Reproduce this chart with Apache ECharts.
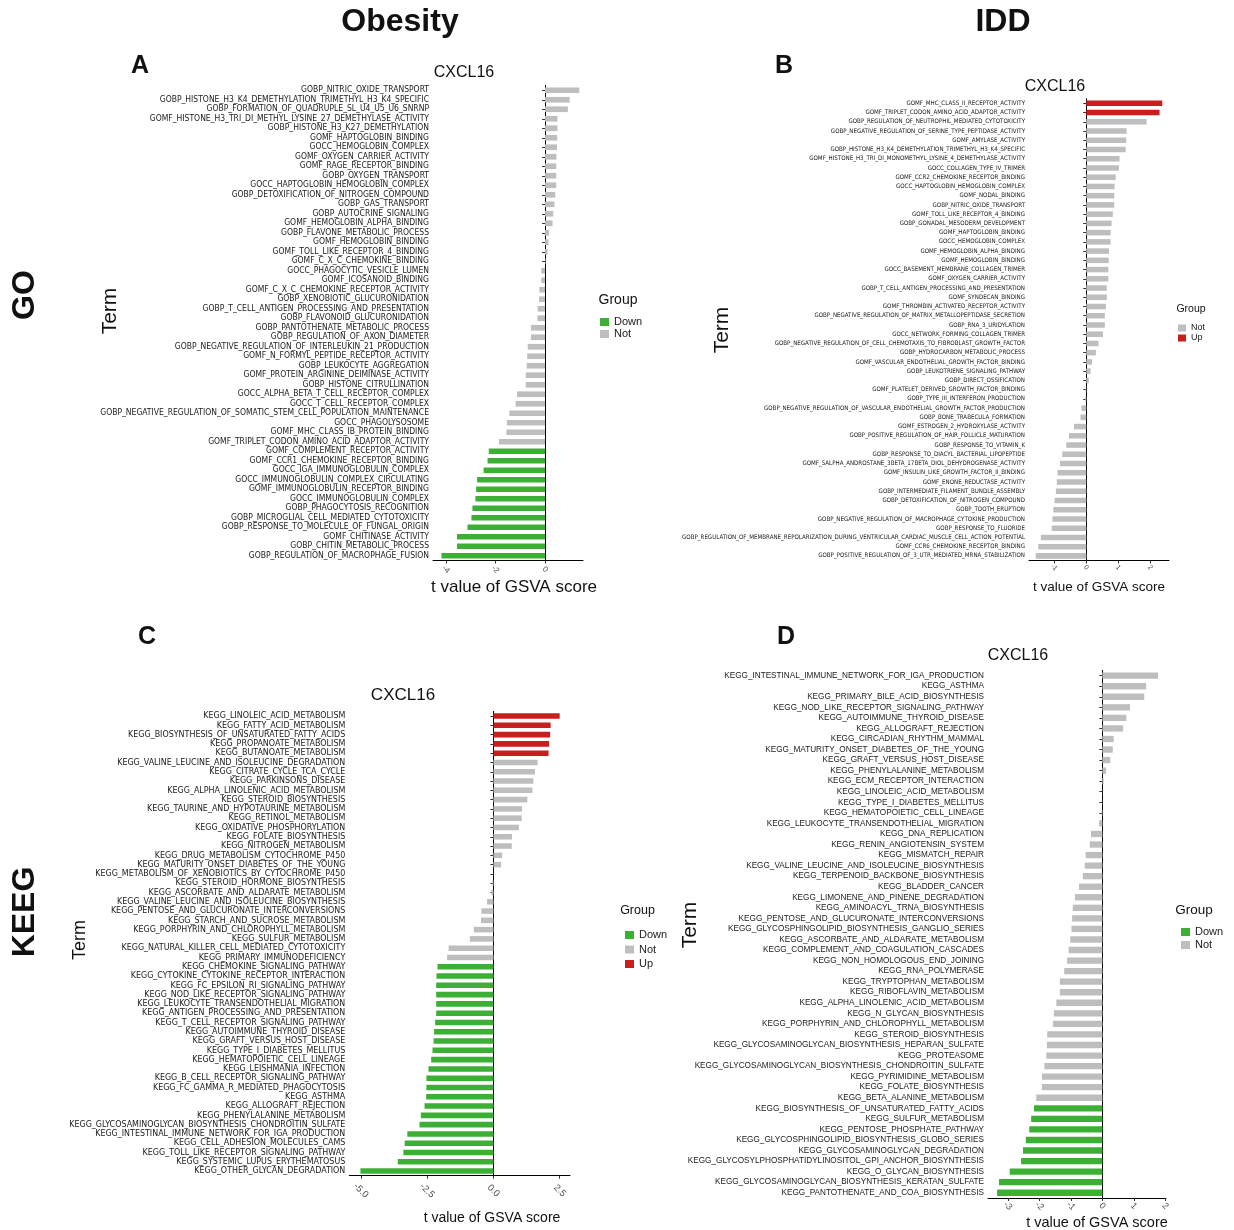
<!DOCTYPE html>
<html>
<head>
<meta charset="utf-8">
<script src="https://cdn.jsdelivr.net/npm/echarts@6/dist/echarts.min.js"></script>
<style>
  html, body { margin: 0; padding: 0; background: #fff; }
  #main { width: 1234px; height: 1230px; }
</style>
</head>
<body>
<div id="main"></div>
<script>
// ---- A: GO, Obesity ----
const goObesityTerms = [
  'GOBP_NITRIC_OXIDE_TRANSPORT', 'GOBP_HISTONE_H3_K4_DEMETHYLATION_TRIMETHYL_H3_K4_SPECIFIC',
  'GOBP_FORMATION_OF_QUADRUPLE_SL_U4_U5_U6_SNRNP', 'GOMF_HISTONE_H3_TRI_DI_METHYL_LYSINE_27_DEMETHYLASE_ACTIVITY',
  'GOBP_HISTONE_H3_K27_DEMETHYLATION', 'GOMF_HAPTOGLOBIN_BINDING', 'GOCC_HEMOGLOBIN_COMPLEX',
  'GOMF_OXYGEN_CARRIER_ACTIVITY', 'GOMF_RAGE_RECEPTOR_BINDING', 'GOBP_OXYGEN_TRANSPORT',
  'GOCC_HAPTOGLOBIN_HEMOGLOBIN_COMPLEX', 'GOBP_DETOXIFICATION_OF_NITROGEN_COMPOUND', 'GOBP_GAS_TRANSPORT',
  'GOBP_AUTOCRINE_SIGNALING', 'GOMF_HEMOGLOBIN_ALPHA_BINDING', 'GOBP_FLAVONE_METABOLIC_PROCESS',
  'GOMF_HEMOGLOBIN_BINDING', 'GOMF_TOLL_LIKE_RECEPTOR_4_BINDING', 'GOMF_C_X_C_CHEMOKINE_BINDING',
  'GOCC_PHAGOCYTIC_VESICLE_LUMEN', 'GOMF_ICOSANOID_BINDING', 'GOMF_C_X_C_CHEMOKINE_RECEPTOR_ACTIVITY',
  'GOBP_XENOBIOTIC_GLUCURONIDATION', 'GOBP_T_CELL_ANTIGEN_PROCESSING_AND_PRESENTATION',
  'GOBP_FLAVONOID_GLUCURONIDATION', 'GOBP_PANTOTHENATE_METABOLIC_PROCESS', 'GOBP_REGULATION_OF_AXON_DIAMETER',
  'GOBP_NEGATIVE_REGULATION_OF_INTERLEUKIN_21_PRODUCTION', 'GOMF_N_FORMYL_PEPTIDE_RECEPTOR_ACTIVITY',
  'GOBP_LEUKOCYTE_AGGREGATION', 'GOMF_PROTEIN_ARGININE_DEIMINASE_ACTIVITY', 'GOBP_HISTONE_CITRULLINATION',
  'GOCC_ALPHA_BETA_T_CELL_RECEPTOR_COMPLEX', 'GOCC_T_CELL_RECEPTOR_COMPLEX',
  'GOBP_NEGATIVE_REGULATION_OF_SOMATIC_STEM_CELL_POPULATION_MAINTENANCE', 'GOCC_PHAGOLYSOSOME',
  'GOMF_MHC_CLASS_IB_PROTEIN_BINDING', 'GOMF_TRIPLET_CODON_AMINO_ACID_ADAPTOR_ACTIVITY',
  'GOMF_COMPLEMENT_RECEPTOR_ACTIVITY', 'GOMF_CCR1_CHEMOKINE_RECEPTOR_BINDING', 'GOCC_IGA_IMMUNOGLOBULIN_COMPLEX',
  'GOCC_IMMUNOGLOBULIN_COMPLEX_CIRCULATING', 'GOMF_IMMUNOGLOBULIN_RECEPTOR_BINDING', 'GOCC_IMMUNOGLOBULIN_COMPLEX',
  'GOBP_PHAGOCYTOSIS_RECOGNITION', 'GOBP_MICROGLIAL_CELL_MEDIATED_CYTOTOXICITY',
  'GOBP_RESPONSE_TO_MOLECULE_OF_FUNGAL_ORIGIN', 'GOMF_CHITINASE_ACTIVITY', 'GOBP_CHITIN_METABOLIC_PROCESS',
  'GOBP_REGULATION_OF_MACROPHAGE_FUSION'
];
const goObesityT = [
  1.38, 0.99, 0.92, 0.50, 0.50, 0.49, 0.48, 0.46, 0.45, 0.45, 0.45, 0.41, 0.38, 0.33, 0.30, 0.16, 0.14,
  0.10, 0.02, -0.15, -0.15, -0.23, -0.24, -0.30, -0.31, -0.57, -0.57, -0.70, -0.72, -0.74, -0.78, -0.78,
  -1.13, -1.19, -1.44, -1.54, -1.56, -1.86, -2.27, -2.32, -2.48, -2.74, -2.78, -2.81, -2.93, -2.97,
  -3.13, -3.55, -3.55, -4.18
];
const goObesityGroup = [...Array(38).fill('Not'), ...Array(12).fill('Down')];
const goObesityTicks = [-4, -2, 0];

// ---- B: GO, IDD ----
const goIddTerms = [
  'GOMF_MHC_CLASS_II_RECEPTOR_ACTIVITY', 'GOMF_TRIPLET_CODON_AMINO_ACID_ADAPTOR_ACTIVITY',
  'GOBP_REGULATION_OF_NEUTROPHIL_MEDIATED_CYTOTOXICITY', 'GOBP_NEGATIVE_REGULATION_OF_SERINE_TYPE_PEPTIDASE_ACTIVITY',
  'GOMF_AMYLASE_ACTIVITY', 'GOBP_HISTONE_H3_K4_DEMETHYLATION_TRIMETHYL_H3_K4_SPECIFIC',
  'GOMF_HISTONE_H3_TRI_DI_MONOMETHYL_LYSINE_4_DEMETHYLASE_ACTIVITY', 'GOCC_COLLAGEN_TYPE_IV_TRIMER',
  'GOMF_CCR2_CHEMOKINE_RECEPTOR_BINDING', 'GOCC_HAPTOGLOBIN_HEMOGLOBIN_COMPLEX', 'GOMF_NODAL_BINDING',
  'GOBP_NITRIC_OXIDE_TRANSPORT', 'GOMF_TOLL_LIKE_RECEPTOR_4_BINDING', 'GOBP_GONADAL_MESODERM_DEVELOPMENT',
  'GOMF_HAPTOGLOBIN_BINDING', 'GOCC_HEMOGLOBIN_COMPLEX', 'GOMF_HEMOGLOBIN_ALPHA_BINDING', 'GOMF_HEMOGLOBIN_BINDING',
  'GOCC_BASEMENT_MEMBRANE_COLLAGEN_TRIMER', 'GOMF_OXYGEN_CARRIER_ACTIVITY',
  'GOBP_T_CELL_ANTIGEN_PROCESSING_AND_PRESENTATION', 'GOMF_SYNDECAN_BINDING',
  'GOMF_THROMBIN_ACTIVATED_RECEPTOR_ACTIVITY', 'GOBP_NEGATIVE_REGULATION_OF_MATRIX_METALLOPEPTIDASE_SECRETION',
  'GOBP_RNA_3_URIDYLATION', 'GOCC_NETWORK_FORMING_COLLAGEN_TRIMER',
  'GOBP_NEGATIVE_REGULATION_OF_CELL_CHEMOTAXIS_TO_FIBROBLAST_GROWTH_FACTOR', 'GOBP_HYDROCARBON_METABOLIC_PROCESS',
  'GOMF_VASCULAR_ENDOTHELIAL_GROWTH_FACTOR_BINDING', 'GOBP_LEUKOTRIENE_SIGNALING_PATHWAY',
  'GOBP_DIRECT_OSSIFICATION', 'GOMF_PLATELET_DERIVED_GROWTH_FACTOR_BINDING', 'GOBP_TYPE_III_INTERFERON_PRODUCTION',
  'GOBP_NEGATIVE_REGULATION_OF_VASCULAR_ENDOTHELIAL_GROWTH_FACTOR_PRODUCTION', 'GOBP_BONE_TRABECULA_FORMATION',
  'GOMF_ESTROGEN_2_HYDROXYLASE_ACTIVITY', 'GOBP_POSITIVE_REGULATION_OF_HAIR_FOLLICLE_MATURATION',
  'GOBP_RESPONSE_TO_VITAMIN_K', 'GOBP_RESPONSE_TO_DIACYL_BACTERIAL_LIPOPEPTIDE',
  'GOMF_5ALPHA_ANDROSTANE_3BETA_17BETA_DIOL_DEHYDROGENASE_ACTIVITY', 'GOMF_INSULIN_LIKE_GROWTH_FACTOR_II_BINDING',
  'GOMF_ENONE_REDUCTASE_ACTIVITY', 'GOBP_INTERMEDIATE_FILAMENT_BUNDLE_ASSEMBLY',
  'GOBP_DETOXIFICATION_OF_NITROGEN_COMPOUND', 'GOBP_TOOTH_ERUPTION',
  'GOBP_NEGATIVE_REGULATION_OF_MACROPHAGE_CYTOKINE_PRODUCTION', 'GOBP_RESPONSE_TO_FLUORIDE',
  'GOBP_REGULATION_OF_MEMBRANE_REPOLARIZATION_DURING_VENTRICULAR_CARDIAC_MUSCLE_CELL_ACTION_POTENTIAL',
  'GOMF_CCR6_CHEMOKINE_RECEPTOR_BINDING', 'GOBP_POSITIVE_REGULATION_OF_3_UTR_MEDIATED_MRNA_STABILIZATION'
];
const goIddT = [
  2.375, 2.29, 1.885, 1.26, 1.25, 1.23, 1.04, 1.02, 0.92, 0.885, 0.875, 0.875, 0.83, 0.79, 0.76, 0.76,
  0.71, 0.70, 0.69, 0.69, 0.64, 0.64, 0.615, 0.58, 0.58, 0.52, 0.385, 0.30, 0.18, 0.135, 0.08, -0.02,
  -0.03, -0.15, -0.18, -0.385, -0.54, -0.625, -0.75, -0.82, -0.90, -0.92, -0.95, -0.99, -1.03, -1.06,
  -1.08, -1.42, -1.50, -1.58
];
const goIddGroup = [...Array(2).fill('Up'), ...Array(48).fill('Not')];
const goIddTicks = [-1, 0, 1, 2];

// ---- C: KEGG, Obesity ----
const keggObesityTerms = [
  'KEGG_LINOLEIC_ACID_METABOLISM', 'KEGG_FATTY_ACID_METABOLISM', 'KEGG_BIOSYNTHESIS_OF_UNSATURATED_FATTY_ACIDS',
  'KEGG_PROPANOATE_METABOLISM', 'KEGG_BUTANOATE_METABOLISM', 'KEGG_VALINE_LEUCINE_AND_ISOLEUCINE_DEGRADATION',
  'KEGG_CITRATE_CYCLE_TCA_CYCLE', 'KEGG_PARKINSONS_DISEASE', 'KEGG_ALPHA_LINOLENIC_ACID_METABOLISM',
  'KEGG_STEROID_BIOSYNTHESIS', 'KEGG_TAURINE_AND_HYPOTAURINE_METABOLISM', 'KEGG_RETINOL_METABOLISM',
  'KEGG_OXIDATIVE_PHOSPHORYLATION', 'KEGG_FOLATE_BIOSYNTHESIS', 'KEGG_NITROGEN_METABOLISM',
  'KEGG_DRUG_METABOLISM_CYTOCHROME_P450', 'KEGG_MATURITY_ONSET_DIABETES_OF_THE_YOUNG',
  'KEGG_METABOLISM_OF_XENOBIOTICS_BY_CYTOCHROME_P450', 'KEGG_STEROID_HORMONE_BIOSYNTHESIS',
  'KEGG_ASCORBATE_AND_ALDARATE_METABOLISM', 'KEGG_VALINE_LEUCINE_AND_ISOLEUCINE_BIOSYNTHESIS',
  'KEGG_PENTOSE_AND_GLUCURONATE_INTERCONVERSIONS', 'KEGG_STARCH_AND_SUCROSE_METABOLISM',
  'KEGG_PORPHYRIN_AND_CHLOROPHYLL_METABOLISM', 'KEGG_SULFUR_METABOLISM',
  'KEGG_NATURAL_KILLER_CELL_MEDIATED_CYTOTOXICITY', 'KEGG_PRIMARY_IMMUNODEFICIENCY',
  'KEGG_CHEMOKINE_SIGNALING_PATHWAY', 'KEGG_CYTOKINE_CYTOKINE_RECEPTOR_INTERACTION',
  'KEGG_FC_EPSILON_RI_SIGNALING_PATHWAY', 'KEGG_NOD_LIKE_RECEPTOR_SIGNALING_PATHWAY',
  'KEGG_LEUKOCYTE_TRANSENDOTHELIAL_MIGRATION', 'KEGG_ANTIGEN_PROCESSING_AND_PRESENTATION',
  'KEGG_T_CELL_RECEPTOR_SIGNALING_PATHWAY', 'KEGG_AUTOIMMUNE_THYROID_DISEASE', 'KEGG_GRAFT_VERSUS_HOST_DISEASE',
  'KEGG_TYPE_I_DIABETES_MELLITUS', 'KEGG_HEMATOPOIETIC_CELL_LINEAGE', 'KEGG_LEISHMANIA_INFECTION',
  'KEGG_B_CELL_RECEPTOR_SIGNALING_PATHWAY', 'KEGG_FC_GAMMA_R_MEDIATED_PHAGOCYTOSIS', 'KEGG_ASTHMA',
  'KEGG_ALLOGRAFT_REJECTION', 'KEGG_PHENYLALANINE_METABOLISM',
  'KEGG_GLYCOSAMINOGLYCAN_BIOSYNTHESIS_CHONDROITIN_SULFATE', 'KEGG_INTESTINAL_IMMUNE_NETWORK_FOR_IGA_PRODUCTION',
  'KEGG_CELL_ADHESION_MOLECULES_CAMS', 'KEGG_TOLL_LIKE_RECEPTOR_SIGNALING_PATHWAY',
  'KEGG_SYSTEMIC_LUPUS_ERYTHEMATOSUS', 'KEGG_OTHER_GLYCAN_DEGRADATION'
];
const keggObesityT = [
  2.50, 2.16, 2.14, 2.10, 2.08, 1.67, 1.57, 1.51, 1.47, 1.28, 1.08, 1.07, 0.96, 0.70, 0.69, 0.33, 0.29,
  0.005, -0.04, -0.075, -0.24, -0.45, -0.47, -0.74, -0.89, -1.69, -1.75, -2.11, -2.15, -2.16, -2.16,
  -2.16, -2.16, -2.20, -2.24, -2.26, -2.30, -2.35, -2.45, -2.53, -2.53, -2.54, -2.60, -2.74, -2.79,
  -3.25, -3.35, -3.40, -3.61, -5.02
];
const keggObesityGroup = [...Array(5).fill('Up'), ...Array(22).fill('Not'), ...Array(23).fill('Down')];
const keggObesityTicks = [-5, -2.5, 0, 2.5];

// ---- D: KEGG, IDD ----
const keggIddTerms = [
  'KEGG_INTESTINAL_IMMUNE_NETWORK_FOR_IGA_PRODUCTION', 'KEGG_ASTHMA', 'KEGG_PRIMARY_BILE_ACID_BIOSYNTHESIS',
  'KEGG_NOD_LIKE_RECEPTOR_SIGNALING_PATHWAY', 'KEGG_AUTOIMMUNE_THYROID_DISEASE', 'KEGG_ALLOGRAFT_REJECTION',
  'KEGG_CIRCADIAN_RHYTHM_MAMMAL', 'KEGG_MATURITY_ONSET_DIABETES_OF_THE_YOUNG', 'KEGG_GRAFT_VERSUS_HOST_DISEASE',
  'KEGG_PHENYLALANINE_METABOLISM', 'KEGG_ECM_RECEPTOR_INTERACTION', 'KEGG_LINOLEIC_ACID_METABOLISM',
  'KEGG_TYPE_I_DIABETES_MELLITUS', 'KEGG_HEMATOPOIETIC_CELL_LINEAGE', 'KEGG_LEUKOCYTE_TRANSENDOTHELIAL_MIGRATION',
  'KEGG_DNA_REPLICATION', 'KEGG_RENIN_ANGIOTENSIN_SYSTEM', 'KEGG_MISMATCH_REPAIR',
  'KEGG_VALINE_LEUCINE_AND_ISOLEUCINE_BIOSYNTHESIS', 'KEGG_TERPENOID_BACKBONE_BIOSYNTHESIS', 'KEGG_BLADDER_CANCER',
  'KEGG_LIMONENE_AND_PINENE_DEGRADATION', 'KEGG_AMINOACYL_TRNA_BIOSYNTHESIS',
  'KEGG_PENTOSE_AND_GLUCURONATE_INTERCONVERSIONS', 'KEGG_GLYCOSPHINGOLIPID_BIOSYNTHESIS_GANGLIO_SERIES',
  'KEGG_ASCORBATE_AND_ALDARATE_METABOLISM', 'KEGG_COMPLEMENT_AND_COAGULATION_CASCADES',
  'KEGG_NON_HOMOLOGOUS_END_JOINING', 'KEGG_RNA_POLYMERASE', 'KEGG_TRYPTOPHAN_METABOLISM',
  'KEGG_RIBOFLAVIN_METABOLISM', 'KEGG_ALPHA_LINOLENIC_ACID_METABOLISM', 'KEGG_N_GLYCAN_BIOSYNTHESIS',
  'KEGG_PORPHYRIN_AND_CHLOROPHYLL_METABOLISM', 'KEGG_STEROID_BIOSYNTHESIS',
  'KEGG_GLYCOSAMINOGLYCAN_BIOSYNTHESIS_HEPARAN_SULFATE', 'KEGG_PROTEASOME',
  'KEGG_GLYCOSAMINOGLYCAN_BIOSYNTHESIS_CHONDROITIN_SULFATE', 'KEGG_PYRIMIDINE_METABOLISM',
  'KEGG_FOLATE_BIOSYNTHESIS', 'KEGG_BETA_ALANINE_METABOLISM', 'KEGG_BIOSYNTHESIS_OF_UNSATURATED_FATTY_ACIDS',
  'KEGG_SULFUR_METABOLISM', 'KEGG_PENTOSE_PHOSPHATE_PATHWAY', 'KEGG_GLYCOSPHINGOLIPID_BIOSYNTHESIS_GLOBO_SERIES',
  'KEGG_GLYCOSAMINOGLYCAN_DEGRADATION', 'KEGG_GLYCOSYLPHOSPHATIDYLINOSITOL_GPI_ANCHOR_BIOSYNTHESIS',
  'KEGG_O_GLYCAN_BIOSYNTHESIS', 'KEGG_GLYCOSAMINOGLYCAN_BIOSYNTHESIS_KERATAN_SULFATE',
  'KEGG_PANTOTHENATE_AND_COA_BIOSYNTHESIS'
];
const keggIddT = [
  1.77, 1.39, 1.33, 0.88, 0.76, 0.66, 0.36, 0.33, 0.25, 0.12, 0.04, 0.005, -0.005, -0.02, -0.10, -0.36,
  -0.40, -0.53, -0.56, -0.62, -0.74, -0.87, -0.94, -0.96, -0.98, -1.02, -1.07, -1.12, -1.21, -1.35,
  -1.35, -1.46, -1.54, -1.57, -1.75, -1.76, -1.78, -1.84, -1.92, -1.92, -2.10, -2.17, -2.26, -2.32,
  -2.43, -2.52, -2.58, -2.94, -3.28, -3.34
];
const keggIddGroup = [...Array(41).fill('Not'), ...Array(9).fill('Down')];
const keggIddTicks = [-3, -2, -1, 0, 1, 2];

const groupColors = { Down: '#3cb034', Not: '#bebebe', Up: '#c81e1e' };
const NARROW = "'Liberation Sans Narrow', 'Arial Narrow', 'DejaVu Sans Condensed', sans-serif";
const SANS = "'Liberation Sans', Arial, Helvetica, sans-serif";

// panel layout: grid box, x range, fonts
const panels = [
  { terms: goObesityTerms, t: goObesityT, group: goObesityGroup, ticks: goObesityTicks, groups: ['Down', 'Not'],
    grid: { left: 433, top: 85.5, width: 150, height: 475 }, min: -4.52, max: 1.53,
    yFont: 8.5, yFamily: NARROW, xFont: 8, xMargin: 9, fmt: v => String(v),
    legend: { left: 600, top: 316, size: 9, pitch: 12, font: 11 } },
  { terms: goIddTerms, t: goIddT, group: goIddGroup, ticks: goIddTicks, groups: ['Not', 'Up'],
    grid: { left: 1029, top: 98.7, width: 140, height: 461.8 }, min: -1.79, max: 2.585,
    yFont: 6.15, yFamily: NARROW, xFont: 7, xMargin: 7, fmt: v => String(v),
    legend: { left: 1178, top: 323, size: 8, pitch: 10, font: 9 } },
  { terms: keggObesityTerms, t: keggObesityT, group: keggObesityGroup, ticks: keggObesityTicks, groups: ['Down', 'Not', 'Up'],
    grid: { left: 349.3, top: 711.4, width: 220.7, height: 464.3 }, min: -5.44, max: 2.89,
    yFont: 8.85, yFamily: NARROW, xFont: 9.5, xMargin: 15, fmt: v => v.toFixed(1),
    legend: { left: 625, top: 927.75, size: 9, pitch: 14.5, font: 11 } },
  { terms: keggIddTerms, t: keggIddT, group: keggIddGroup, ticks: keggIddTicks, groups: ['Down', 'Not'],
    grid: { left: 988, top: 670.4, width: 178, height: 527.6 }, min: -3.63, max: 2.02,
    yFont: 8.2, yFamily: SANS, xFont: 9, xMargin: 8, fmt: v => String(v),
    legend: { left: 1181, top: 925.5, size: 9, pitch: 13, font: 11 } }
];

const grid = [], xAxis = [], yAxis = [], series = [], legend = [];
panels.forEach((p, i) => {
  grid.push(Object.assign({ outerBoundsMode: 'none', containLabel: false }, p.grid));
  xAxis.push({
    gridIndex: i, type: 'value', min: p.min, max: p.max,
    axisLine: { show: true, lineStyle: { color: '#000', width: 1 } },
    axisTick: { show: true, length: 3, customValues: p.ticks, lineStyle: { color: '#333' } },
    axisLabel: {
      customValues: p.ticks, rotate: -45, align: 'center', verticalAlign: 'middle',
      margin: p.xMargin, fontSize: p.xFont, color: '#4d4d4d', fontFamily: SANS, formatter: p.fmt
    },
    splitLine: { show: false }
  });
  yAxis.push({
    gridIndex: i, type: 'category', inverse: true, data: p.terms,
    axisLine: { show: true, lineStyle: { color: '#000', width: 1 } },
    axisTick: { show: true, length: 3, alignWithLabel: true, lineStyle: { color: '#333' } },
    axisLabel: { interval: 0, margin: 4, fontSize: p.yFont, fontFamily: p.yFamily, color: '#1a1a1a' }
  });
  p.groups.forEach(g => {
    series.push({
      name: g, type: 'bar', xAxisIndex: i, yAxisIndex: i, stack: 'panel' + i,
      barWidth: '60%', color: groupColors[g], silent: true,
      data: p.t.map((v, k) => (p.group[k] === g ? v : null))
    });
  });
  legend.push({
    left: p.legend.left, top: p.legend.top, orient: 'vertical', padding: 0, itemGap: 0,
    itemWidth: p.legend.size, itemHeight: p.legend.size - 1, icon: 'rect', selectedMode: false,
    data: p.groups,
    textStyle: { fontSize: p.legend.font, fontFamily: SANS, color: '#1a1a1a', lineHeight: p.legend.pitch }
  });
});

// free-standing texts: [text, x, y, font, rotated]
const labels = [
  ['Obesity', 400, 22, 'bold 32px ' + SANS, false],
  ['IDD', 1003, 22, 'bold 32px ' + SANS, false],
  ['A', 140, 66, 'bold 25px ' + SANS, false],
  ['B', 784, 66, 'bold 25px ' + SANS, false],
  ['C', 147, 637, 'bold 25px ' + SANS, false],
  ['D', 786, 637, 'bold 25px ' + SANS, false],
  ['GO', 25, 295, 'bold 32px ' + SANS, true],
  ['KEEG', 25, 912, 'bold 32px ' + SANS, true],
  ['CXCL16', 464, 73, '16px ' + SANS, false],
  ['CXCL16', 1055, 87, '16px ' + SANS, false],
  ['CXCL16', 403, 695, '17px ' + SANS, false],
  ['CXCL16', 1018, 656, '16px ' + SANS, false],
  ['Term', 110, 311, '21px ' + SANS, true],
  ['Term', 722, 330, '21px ' + SANS, true],
  ['Term', 80, 940, '18px ' + SANS, true],
  ['Term', 690, 925, '21px ' + SANS, true],
  ['t value of GSVA score', 514, 587, '17px ' + SANS, false],
  ['t value of GSVA score', 1099, 587, '13.5px ' + SANS, false],
  ['t value of GSVA score', 492, 1218, '14px ' + SANS, false],
  ['t value of GSVA score', 1097, 1223, '14.5px ' + SANS, false],
  ['Group', 618, 300, '14px ' + SANS, false],
  ['Group', 1191, 309, '10.5px ' + SANS, false],
  ['Group', 637.5, 911, '12.5px ' + SANS, false],
  ['Group', 1194, 910, '13.5px ' + SANS, false]
];

const chart = echarts.init(document.getElementById('main'), null, { renderer: 'canvas' });
chart.setOption({
  backgroundColor: '#fff',
  animation: false,
  grid: grid,
  xAxis: xAxis,
  yAxis: yAxis,
  legend: legend,
  series: series,
  graphic: labels.map(l => ({
    type: 'text', x: l[1], y: l[2], rotation: l[4] ? Math.PI / 2 : 0, silent: true,
    style: { text: l[0], font: l[3], fill: '#111', align: 'center', verticalAlign: 'middle' }
  }))
});
</script>
</body>
</html>
